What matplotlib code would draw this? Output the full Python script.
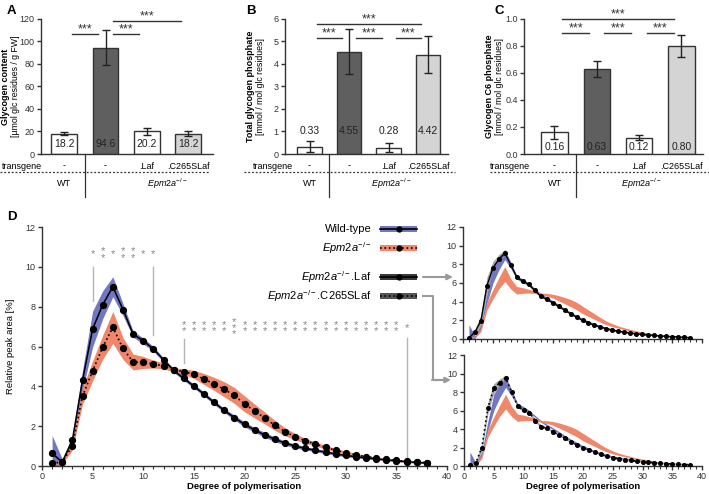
import numpy as np
import matplotlib
matplotlib.use("Agg")
import matplotlib.pyplot as plt
from matplotlib.transforms import blended_transform_factory
from matplotlib.ticker import MultipleLocator

plt.rcParams['font.family'] = ['Liberation Sans', 'DejaVu Sans']
plt.rcParams['mathtext.fontset'] = 'custom'
plt.rcParams['mathtext.rm'] = 'Liberation Sans'
plt.rcParams['mathtext.it'] = 'Liberation Sans:italic'
plt.rcParams['axes.linewidth'] = 1.0
plt.rcParams['axes.edgecolor'] = '#333333'
plt.rcParams['xtick.color'] = '#333333'
plt.rcParams['ytick.color'] = '#333333'

# ---- data: bar panels ----
transgene = ['-', '-', '.Laf', '.C265SLaf']
bar_colors = ['white', '#5f5f5f', 'white', '#d4d4d4']

content = [18.2, 94.6, 20.2, 18.2]
content_err = [1.4, 15.4, 3.3, 2.2]
content_lbl = ['18.2', '94.6', '20.2', '18.2']

total_p = [0.33, 4.55, 0.28, 4.42]
total_p_err = [0.25, 1.0, 0.2, 0.81]
total_p_lbl = ['0.33', '4.55', '0.28', '4.42']

c6_p = [0.16, 0.63, 0.12, 0.80]
c6_p_err = [0.05, 0.057, 0.018, 0.08]
c6_p_lbl = ['0.16', '0.63', '0.12', '0.80']

# significance brackets (bar i, bar j, height)
sig_a = [(0, 1, 106.7), (1, 2, 106.7), (1, 3, 118.5)]
sig_b = [(0, 1, 5.14), (1, 2, 5.14), (2, 3, 5.14), (0, 3, 5.76)]
sig_c = [(0, 1, 0.894), (1, 2, 0.894), (2, 3, 0.894), (0, 3, 1.0)]

# ---- data: chain length distribution ----
dp = np.arange(1, 39)
wt = [0.63, 0.2, 1.3, 4.3, 6.88, 8.1, 9.0, 7.85, 6.62, 6.28, 5.88, 5.33, 4.8,
      4.4, 4.01, 3.61, 3.19, 2.79, 2.43, 2.09, 1.81, 1.56, 1.34, 1.15, 1.0,
      0.89, 0.79, 0.7, 0.61, 0.53, 0.47, 0.41, 0.36, 0.31, 0.26, 0.22, 0.18, 0.15]
wt_sd = [0.9, 0.15, 0.2, 0.5, 0.9, 0.7, 0.5, 0.3, 0.15, 0.15, 0.12, 0.1, 0.1,
         0.1, 0.1, 0.1, 0.1, 0.1, 0.12, 0.12, 0.12, 0.12, 0.12, 0.1, 0.1,
         0.08, 0.08, 0.08, 0.07, 0.07, 0.06, 0.06, 0.05, 0.05, 0.05, 0.05, 0.04, 0.04]
ko = [0.13, 0.2, 1.0, 3.5, 4.78, 5.97, 6.96, 5.9, 5.22, 5.2, 5.12, 5.03, 4.82,
      4.74, 4.6, 4.37, 4.12, 3.85, 3.54, 3.12, 2.76, 2.41, 2.04, 1.72, 1.47,
      1.27, 1.1, 0.94, 0.79, 0.67, 0.57, 0.47, 0.4, 0.33, 0.28, 0.23, 0.2, 0.17]
ko_sd = [0.05, 0.1, 0.2, 0.4, 0.5, 0.6, 0.8, 0.55, 0.4, 0.3, 0.2, 0.15, 0.1,
         0.15, 0.2, 0.28, 0.33, 0.38, 0.4, 0.4, 0.35, 0.3, 0.25, 0.2, 0.16,
         0.12, 0.1, 0.1, 0.08, 0.08, 0.07, 0.06, 0.05, 0.05, 0.05, 0.04, 0.04, 0.04]
laf = [0.12, 0.75, 1.95, 5.7, 7.6, 8.55, 9.2, 7.95, 6.6, 6.2, 5.85, 5.2, 4.6,
       4.25, 3.9, 3.5, 3.1, 2.7, 2.35, 2.0, 1.72, 1.48, 1.28, 1.1, 0.95,
       0.83, 0.73, 0.64, 0.56, 0.49, 0.43, 0.38, 0.33, 0.29, 0.25, 0.21, 0.18, 0.15]
laf_sd = [0.1, 0.3, 0.6, 0.9, 0.7, 0.5, 0.4, 0.3, 0.2, 0.2, 0.2, 0.15, 0.15,
          0.12, 0.12, 0.1, 0.1, 0.1, 0.1, 0.1, 0.1, 0.1, 0.08, 0.08, 0.08,
          0.06, 0.06, 0.06, 0.05, 0.05, 0.05, 0.05, 0.04, 0.04, 0.04, 0.04, 0.04, 0.04]
c265 = [0.07, 0.36, 2.0, 6.23, 8.4, 9.0, 9.5, 8.0, 6.5, 6.05, 5.77, 4.86, 4.25,
        4.07, 3.7, 3.35, 3.0, 2.6, 2.27, 2.0, 1.73, 1.5, 1.25, 1.05, 0.9,
        0.78, 0.68, 0.6, 0.52, 0.45, 0.4, 0.35, 0.3, 0.26, 0.22, 0.19, 0.16, 0.14]
c265_sd = [0.05, 0.2, 0.4, 0.6, 0.5, 0.4, 0.35, 0.25, 0.2, 0.2, 0.2, 0.15, 0.12,
           0.12, 0.1, 0.1, 0.1, 0.1, 0.1, 0.1, 0.08, 0.08, 0.08, 0.07, 0.07,
           0.06, 0.06, 0.05, 0.05, 0.05, 0.05, 0.04, 0.04, 0.04, 0.04, 0.04, 0.04, 0.04]

# significance stars above DP
sig1_dp = [5, 6, 7, 8, 9, 10, 11]
sig1_n = [1, 2, 1, 2, 2, 1, 1]
sig2_dp = list(range(14, 37))
sig2_n = [2, 2, 2, 2, 2, 3] + [2] * 16 + [1]

BLUE = '#7277c2'
ORANGE = '#f0876b'
GREY = '#a6a6a6'
W, H = 709, 494
FS_TICK = 6.5
FS_ROW = 6.5


def rect(l, t, r, b):
    return [l / W, 1 - b / H, (r - l) / W, (b - t) / H]


fig = plt.figure(figsize=(7.09, 4.94), dpi=100)

KO_LABEL = r'$\mathit{Epm2a}^{-/-}$'


def bar_panel(pos, xlim, vals, errs, lbls, lbl_y, sigs, yl, yticks, fmt,
              ylab_x, ylab, lab_x, dot_x, epm_x):
    ax = fig.add_axes(rect(*pos))
    x = np.arange(4)
    ax.bar(x, vals, width=0.62, color=bar_colors, edgecolor='#333333',
           linewidth=1.0, zorder=2)
    ax.errorbar(x, vals, yerr=errs, fmt='none', ecolor='#222222',
                elinewidth=1.0, capsize=3, capthick=1.0, zorder=3)
    for xi, lb in zip(x, lbls):
        ax.text(xi, lbl_y, lb, ha='center', va='center', fontsize=7.5,
                color='#222222', zorder=4)
    top = yl[1]
    for i, j, h in sigs:
        ax.plot([i + 0.18, j - 0.18], [h, h], color='#333333', lw=1.0,
                clip_on=False)
        ax.text((i + j) / 2, h - 0.01 * top, '***', ha='center',
                va='bottom', fontsize=9, color='#333333', clip_on=False)
    ax.set_xlim(*xlim)
    ax.set_ylim(*yl)
    ax.set_yticks(yticks)
    ax.set_yticklabels([fmt.format(t) for t in yticks], fontsize=FS_TICK)
    ax.set_xticks([])
    ax.spines['top'].set_visible(False)
    ax.spines['right'].set_visible(False)
    ax.tick_params(axis='y', length=3, width=1, pad=1.5)
    tr = blended_transform_factory(ax.transData, ax.transAxes)
    ta = ax.transAxes
    ax.text(lab_x, -0.089, 'transgene', transform=tr, ha='left',
            va='center', fontsize=FS_ROW)
    for xi, tg in zip(x, transgene):
        ax.text(xi, -0.089, tg, transform=tr, ha='center', va='center',
                fontsize=FS_ROW)
    ax.plot(dot_x, [-0.133, -0.133], transform=tr,
            color='#333333', lw=0.9, ls=(0, (1.5, 1.5)), clip_on=False)
    ax.plot([0.5, 0.5], [0, -0.318], transform=tr, color='#333333',
            lw=0.9, clip_on=False)
    ax.text(0, -0.222, 'WT', transform=tr, ha='center', va='center',
            fontsize=FS_ROW)
    ax.text(epm_x, -0.222, KO_LABEL, transform=tr, ha='center',
            va='center', fontsize=FS_ROW)
    ax.text(ylab_x[0], 0.5, ylab[0], transform=ta, rotation=90, ha='center',
            va='center', fontsize=6.5, fontweight='bold')
    ax.text(ylab_x[1], 0.5, ylab[1], transform=ta, rotation=90,
            ha='center', va='center', fontsize=6.3)
    return ax


bar_panel((41, 19, 213, 154), (-0.56, 3.6), content, content_err,
          content_lbl, 9.0, sig_a, (0, 120), list(range(0, 121, 20)), '{:d}',
          (-0.205, -0.15), ('Glycogen content', '[µmol glc residues / g FW]'),
          -1.5, [-1.55, 3.53], 2.5)
bar_panel((285, 19, 448, 154), (-0.62, 3.5), total_p, total_p_err,
          total_p_lbl, 1.0, sig_b, (0, 6), list(range(0, 7)), '{:d}',
          (-0.21, -0.15), ('Total glycogen phosphate', '[mmol / mol glc residues]'),
          -1.43, [-1.66, 3.68], 2.08)
bar_panel((524, 19, 703, 154), (-0.72, 3.51), c6_p, c6_p_err,
          c6_p_lbl, 0.05, sig_c, (0, 1.0), [0, 0.2, 0.4, 0.6, 0.8, 1.0],
          '{:.1f}', (-0.19, -0.137),
          ('Glycogen C6 phosphate', '[mmol / mol glc residues]'),
          -1.52, [-1.52, 3.64], 2.06)


def style_d(ax, labels=True, fs=FS_TICK):
    ax.set_xlim(0, 40)
    ax.set_ylim(0, 12)
    ax.set_yticks(range(0, 13, 2))
    ax.xaxis.set_major_locator(MultipleLocator(5))
    ax.xaxis.set_minor_locator(MultipleLocator(1))
    ax.spines['top'].set_visible(False)
    ax.spines['right'].set_visible(False)
    ax.tick_params(axis='both', which='major', length=3, width=1, pad=1.5,
                   labelsize=fs)
    ax.tick_params(axis='x', which='minor', length=2.5, width=0.8)
    if not labels:
        ax.set_xticklabels([])


def band(ax, y, sd, color, z=1):
    y = np.array(y)
    sd = np.array(sd)
    ax.fill_between(dp, np.clip(y - sd, 0, None), y + sd, color=color,
                    lw=0, zorder=z)


# main panel D
axd = fig.add_axes(rect(42, 227, 447, 466))
band(axd, wt, wt_sd, BLUE)
band(axd, ko, ko_sd, ORANGE)
axd.plot(dp, wt, '-', color='black', lw=1.1, marker='o', ms=4.2, zorder=3)
axd.plot(dp, ko, ':', color='black', lw=1.2, marker='o', ms=4.2, zorder=3)
style_d(axd)
axd.set_ylabel('Relative peak area [%]', fontsize=6.8)
axd.yaxis.set_label_coords(-0.067, 0.5)
axd.set_xlabel('Degree of polymerisation', fontsize=6.8, fontweight='bold')
axd.xaxis.set_label_coords(0.5, -0.068)
# stacked stars: one text per column
for dps, ns, yc in [(sig1_dp, sig1_n, 10.62), (sig2_dp, sig2_n, 6.92)]:
    for d, n in zip(dps, ns):
        axd.text(d, yc, '\n'.join(['*'] * n), ha='center', va='center',
                 fontsize=8, color='#888888', linespacing=0.55)
for d, y0, y1 in [(5, 10.0, 8.3), (11, 10.0, 6.6), (14, 6.4, 5.15),
                  (36, 6.45, 0.4)]:
    axd.plot([d, d], [y0, y1], color='#b5b5b5', lw=1.0, zorder=2)

# small panels
axt = fig.add_axes(rect(463, 227, 702, 339))
band(axt, laf, laf_sd, GREY, 1)
band(axt, wt, wt_sd, BLUE, 2)
band(axt, ko, ko_sd, ORANGE, 2)
axt.plot(dp, laf, '-', color='black', lw=1.0, marker='o', ms=2.6, zorder=3)
style_d(axt, labels=False)

axb = fig.add_axes(rect(464, 355, 702, 466))
band(axb, c265, c265_sd, GREY, 1)
band(axb, wt, wt_sd, BLUE, 2)
band(axb, ko, ko_sd, ORANGE, 2)
axb.plot(dp, c265, ':', color='black', lw=1.2, marker='o', ms=2.6, zorder=3)
style_d(axb)
axb.set_xlabel('Degree of polymerisation', fontsize=6.8, fontweight='bold')
axb.xaxis.set_label_coords(0.5, -0.145)

# overlay: panel letters, legend, arrows
ov = fig.add_axes([0, 0, 1, 1], facecolor='none')
ov.set_xlim(0, W)
ov.set_ylim(H, 0)
ov.axis('off')
for lt, (lx, ly) in zip('ABCD', [(11, 11), (251, 11), (499, 11), (12, 217)]):
    ov.text(lx, ly, lt, ha='center', va='center', fontsize=9.5,
            fontweight='bold')

legend_rows = [
    ('Wild-type', 229, BLUE, '-'),
    (KO_LABEL, 248, ORANGE, ':'),
    (KO_LABEL + '.Laf', 277, '#3a3a3a', '-'),
    (KO_LABEL + '.C265SLaf', 296, '#555555', ':'),
]
for name, yy, col, ls in legend_rows:
    ov.text(372, yy, name, ha='right', va='center', fontsize=8)
    ov.fill_between([380, 417], yy - 3, yy + 3, color=col, lw=0)
    ov.plot([380, 417], [yy, yy], ls=ls, color='black', lw=1.2)
    ov.plot([398.5], [yy], 'o', color='black', ms=3.5)

arrow_c = '#9a9a9a'
ov.annotate('', xy=(453, 277), xytext=(423, 277),
            arrowprops=dict(arrowstyle='-|>', color=arrow_c, lw=1.5,
                            mutation_scale=8, shrinkA=0, shrinkB=0))
ov.plot([423, 433, 433, 440], [296, 296, 380, 380], color=arrow_c, lw=1.5)
ov.annotate('', xy=(451, 380), xytext=(432, 380),
            arrowprops=dict(arrowstyle='-|>', color=arrow_c, lw=1.5,
                            mutation_scale=8, shrinkA=0, shrinkB=0))

fig.savefig('out.png', dpi=100)
